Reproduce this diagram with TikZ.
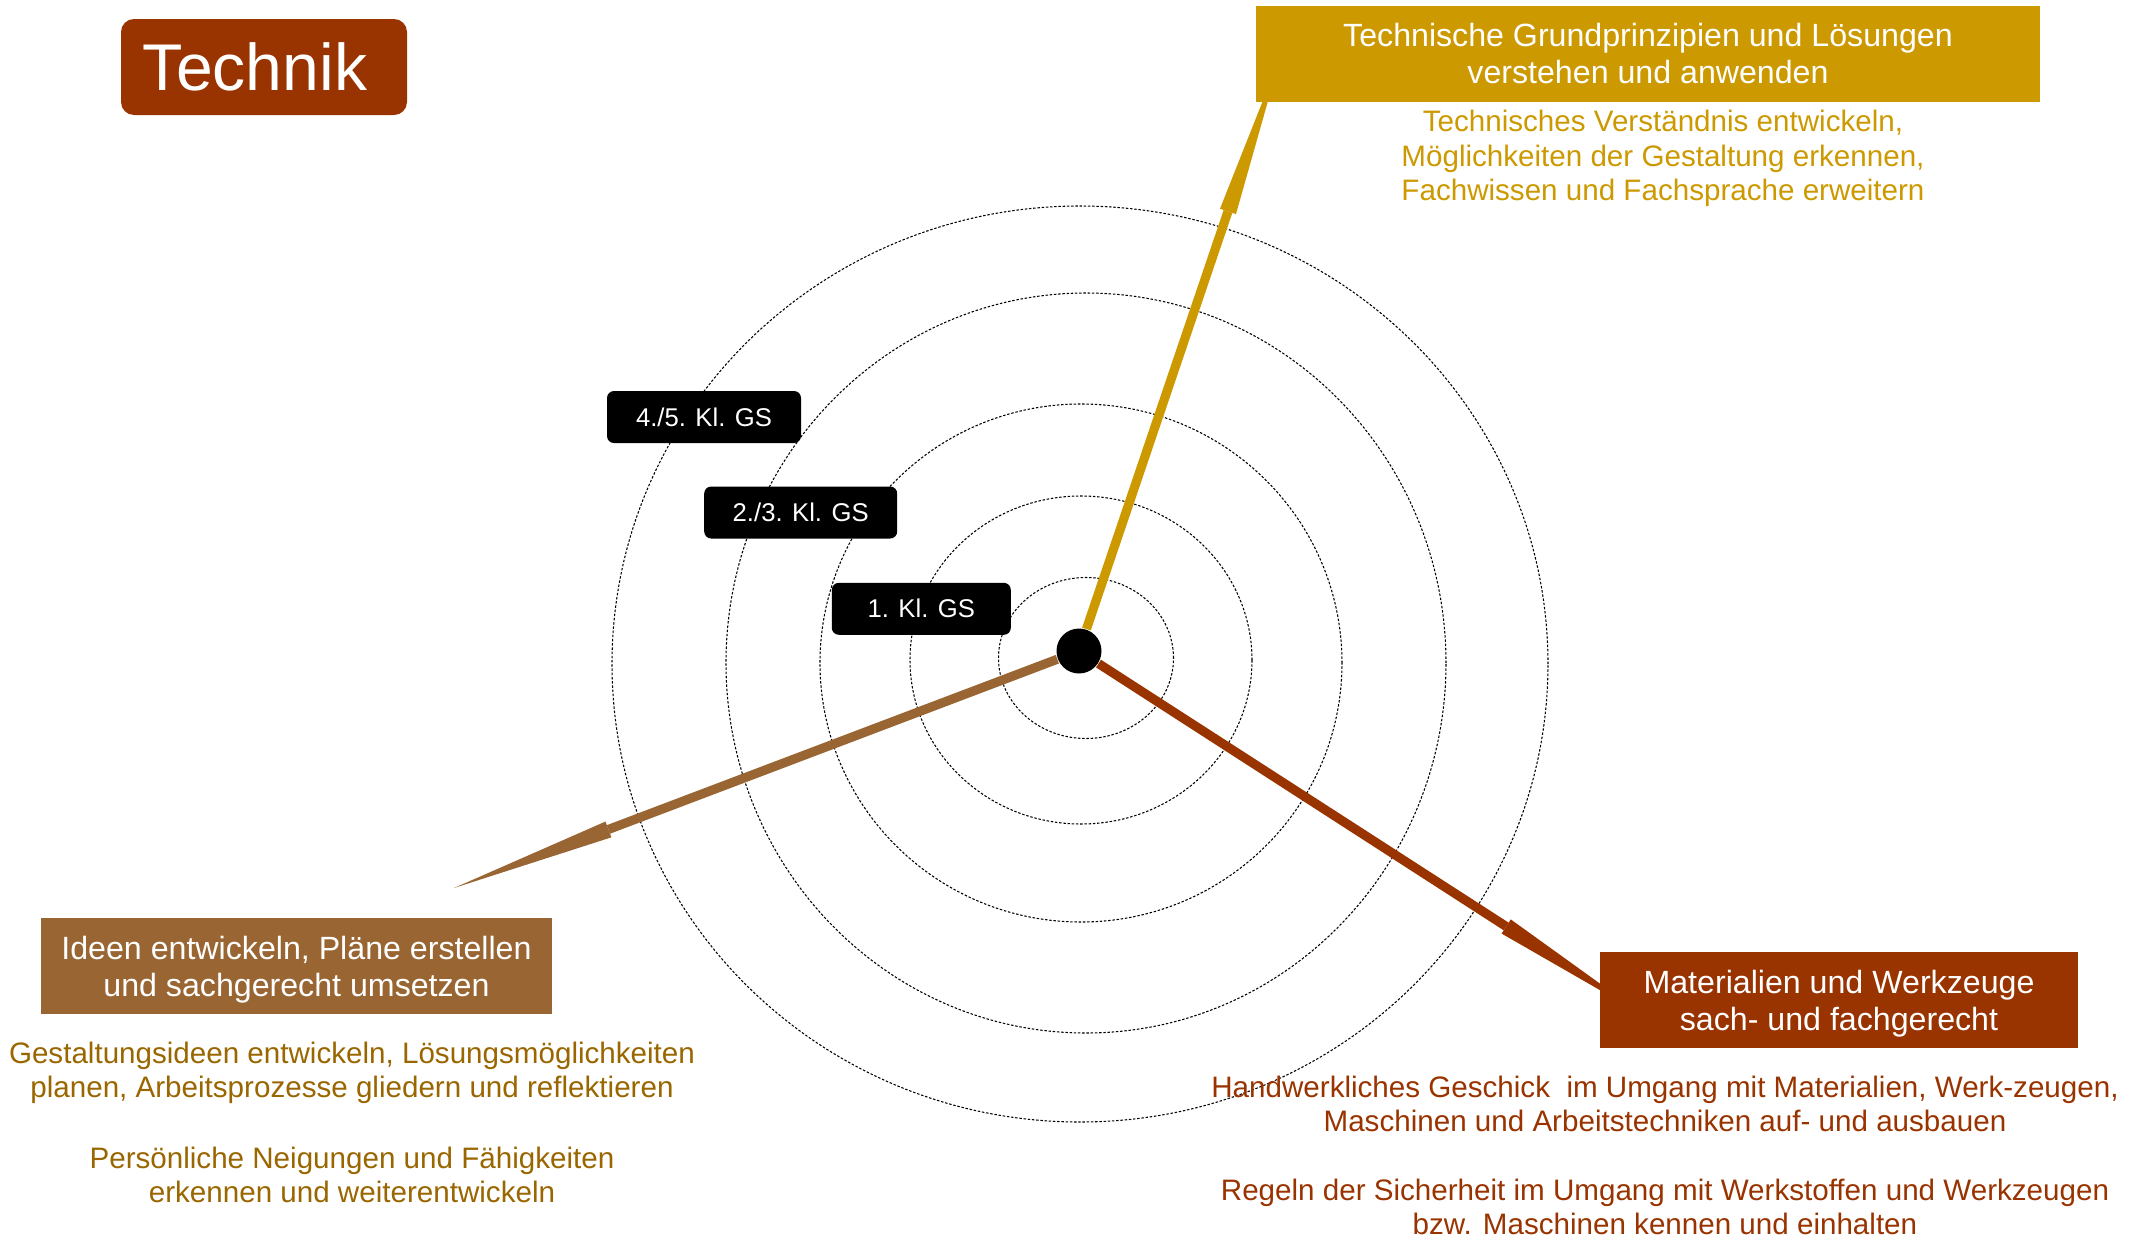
\documentclass[tikz,border=0pt]{standalone}
\usepackage{fontspec}
\setmainfont{Liberation Sans}
\usetikzlibrary{arrows.meta}
\definecolor{gold}{HTML}{CC9900}
\definecolor{ochre}{HTML}{996633}
\definecolor{rust}{HTML}{993300}
\definecolor{olive}{HTML}{996600}
\tikzstyle{title} = [rectangle, fill=rust, text=white, rounded corners=0.13cm,
    minimum width=2.86cm, minimum height=0.96cm, font=\fontsize{18.8pt}{20pt}\selectfont]
\tikzstyle{goal} = [rectangle, text=white, align=center, inner sep=0pt,
    minimum height=0.96cm, font=\fontsize{9.15pt}{10.5pt}\selectfont]
\tikzstyle{level} = [rectangle, fill=black, text=white, rounded corners=0.07cm,
    minimum height=0.52cm, font=\fontsize{7.3pt}{8pt}\selectfont]
\tikzstyle{note} = [align=center, inner sep=0pt, font=\fontsize{8.42pt}{9.7pt}\selectfont]
\tikzstyle{ring} = [draw, line width=0.3pt, dash pattern=on 0.7pt off 0.5pt]
\tikzstyle{spoke} = [draw, line width=2.6pt,
    -{Triangle[length=47pt, width=4.8pt, line width=0pt]}]

\begin{document}
\begin{tikzpicture}
    \useasboundingbox (0,0) rectangle (21.38,-12.38);
    % Rings
    \path [ring] (10.86,-6.58) ellipse (0.875 and 0.805);
    \path [ring] (10.81,-6.60) ellipse (1.71 and 1.64);
    \path [ring] (10.81,-6.63) ellipse (2.61 and 2.59);
    \path [ring] (10.86,-6.63) ellipse (3.60 and 3.70);
    \path [ring] (10.80,-6.64) ellipse (4.68 and 4.58);
    % Centre and spokes
    \node [circle, fill=black, inner sep=0pt, minimum size=0.45cm] (hub) at (10.79,-6.51) {};
    \coordinate (tipGrund) at (12.81,-0.55);
    \coordinate (tipMaterial) at (16.45,-10.16);
    \coordinate (tipIdeen) at (4.54,-8.88);
    \path [spoke, gold] (hub) -- (tipGrund);
    \path [spoke, rust] (hub) -- (tipMaterial);
    \path [spoke, ochre] (hub) -- (tipIdeen);
    % Place nodes
    \node [title] (technik) at (2.64,-0.67) {Technik\kern0.18cm};
    \node [level, minimum width=1.94cm] (kl45) at (7.04,-4.17) {4./5. Kl. GS};
    \node [level, minimum width=1.93cm] (kl23) at (8.007,-5.125) {2./3. Kl. GS};
    \node [level, minimum width=1.79cm] (kl1) at (9.213,-6.088) {1. Kl. GS};
    \node [goal, fill=gold, minimum width=7.84cm] (grund) at (16.48,-0.535)
        {Technische Grundprinzipien und Lösungen\\verstehen und anwenden};
    \node [note, text=gold] (grundNote) at (16.63,-1.584)
        {Technisches Verständnis entwickeln,\\Möglichkeiten der Gestaltung erkennen,\\Fachwissen und Fachsprache erweitern};
    \node [goal, fill=ochre, minimum width=5.11cm] (ideen) at (2.965,-9.66)
        {\raisebox{-0.04cm}[\height][\depth]{\parbox{5cm}{\centering Ideen entwickeln, Pläne erstellen\\und sachgerecht umsetzen}}};
    \node [note, text=olive] (ideenNoteA) at (3.52,-10.727)
        {Gestaltungsideen entwickeln, Lösungsmöglichkeiten\\planen, Arbeitsprozesse gliedern und reflektieren};
    \node [note, text=olive] (ideenNoteB) at (3.52,-11.75)
        {Persönliche Neigungen und Fähigkeiten\\erkennen und weiterentwickeln};
    \node [goal, fill=rust, minimum width=4.78cm] (material) at (18.39,-9.995)
        {\raisebox{-0.04cm}[\height][\depth]{\parbox{4.7cm}{\centering Materialien und Werkzeuge\\sach- und fachgerecht}}};
    \node [note, text=rust] (materialNoteA) at (16.65,-11.04)
        {Handwerkliches Geschick\ \ im Umgang mit Materialien, Werk-zeugen,\\Maschinen und Arbeitstechniken auf- und ausbauen};
    \node [note, text=rust] (materialNoteB) at (16.65,-12.07)
        {Regeln der Sicherheit im Umgang mit Werkstoffen und Werkzeugen\\bzw. Maschinen kennen und einhalten};
\end{tikzpicture}
\end{document}
